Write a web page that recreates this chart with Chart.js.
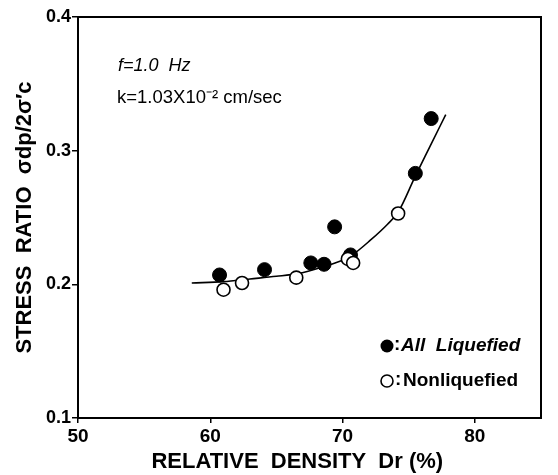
<!DOCTYPE html>
<html>
<head>
<meta charset="utf-8">
<script src="https://cdn.jsdelivr.net/npm/chart.js@4/dist/chart.umd.min.js"></script>
<style>
  html, body { margin: 0; padding: 0; background: #fff; }
  #wrap { width: 558px; height: 475px; }
</style>
</head>
<body>
<div id="wrap"><canvas id="chart" width="558" height="475"></canvas></div>
<script>
// values
const liquefiedDr = [60.7, 64.1, 67.6, 68.6, 69.4, 70.6, 75.5, 76.7];
const liquefiedRatio = [0.207, 0.211, 0.216, 0.215, 0.243, 0.222, 0.283, 0.324];
const nonliquefiedDr = [61.0, 62.4, 66.5, 70.4, 70.8, 74.2];
const nonliquefiedRatio = [0.196, 0.201, 0.205, 0.219, 0.216, 0.253];
// fitted curve
const curveDr = [58.6, 61.0, 63.0, 65.0, 66.6, 68.5, 70.0, 70.6, 72.1, 73.4, 74.2, 75.5, 76.6, 77.8];
const curveRatio = [0.201, 0.202, 0.204, 0.206, 0.208, 0.213, 0.218, 0.221, 0.233, 0.245, 0.254, 0.281, 0.303, 0.327];
const xTicks = [50, 60, 70, 80];
const yTicks = [0.1, 0.2, 0.3, 0.4];

const toPts = (xs, ys) => xs.map((x, i) => ({x: x, y: ys[i]}));
const FONT = '"Liberation Sans", Arial, Helvetica, sans-serif';

// box round the plot, notes and the hand-made key
const decor = {
    id: 'decor',
    afterDraw(chart) {
        const {ctx, chartArea: a} = chart;
        ctx.save();
        ctx.strokeStyle = '#000';
        ctx.lineWidth = 2;
        ctx.strokeRect(a.left, a.top, a.right - a.left, a.bottom - a.top);

        ctx.fillStyle = '#000';
        ctx.textBaseline = 'middle';
        ctx.font = 'italic 18px ' + FONT;
        ctx.fillText('f=1.0  Hz', 118, 66);
        ctx.font = '18.5px ' + FONT;
        ctx.fillText('k=1.03X10\u207B\u00B2 cm/sec', 117, 98);

        // key
        ctx.beginPath();
        ctx.arc(387, 346, 6.5, 0, Math.PI * 2);
        ctx.fill();
        ctx.beginPath();
        ctx.lineWidth = 1.6;
        ctx.arc(387, 381, 6, 0, Math.PI * 2);
        ctx.stroke();
        ctx.font = 'bold 19px ' + FONT;
        ctx.fillText(':', 394, 345);
        ctx.fillText(':', 395, 380);
        ctx.font = 'italic bold 19px ' + FONT;
        ctx.fillText('All  Liquefied', 401, 346);
        ctx.font = 'bold 19px ' + FONT;
        ctx.fillText('Nonliquefied', 403, 381);
        ctx.restore();
    }
};

new Chart(document.getElementById('chart'), {
    type: 'scatter',
    data: {
        datasets: [
            {
                type: 'line',
                data: toPts(curveDr, curveRatio),
                borderColor: '#000',
                borderWidth: 1.6,
                pointRadius: 0,
                cubicInterpolationMode: 'monotone',
                fill: false,
                order: 3
            },
            {
                label: 'All Liquefied',
                data: toPts(liquefiedDr, liquefiedRatio),
                backgroundColor: '#000',
                borderColor: '#000',
                pointRadius: 7,
                order: 2
            },
            {
                label: 'Nonliquefied',
                data: toPts(nonliquefiedDr, nonliquefiedRatio),
                backgroundColor: '#fff',
                borderColor: '#000',
                borderWidth: 1.6,
                pointRadius: 6.5,
                order: 1
            }
        ]
    },
    options: {
        responsive: false,
        animation: false,
        layout: {padding: {top: 17, right: 17, left: 0, bottom: 0}},
        plugins: {legend: {display: false}, tooltip: {enabled: false}},
        scales: {
            x: {
                type: 'linear',
                min: 50,
                max: 85,
                afterBuildTicks: s => { s.ticks = xTicks.map(v => ({value: v})); },
                afterFit: s => { s.height = 57; },
                grid: {drawOnChartArea: false, color: '#000', tickLength: 5, lineWidth: 1.5},
                border: {color: '#000', width: 2},
                ticks: {color: '#000', padding: 2, font: {family: FONT, size: 19, weight: 'bold'}},
                title: {
                    display: true,
                    text: 'RELATIVE  DENSITY  Dr (%)    ',
                    color: '#000',
                    padding: {top: 0, bottom: 0},
                    font: {family: FONT, size: 22, weight: 'bold'}
                }
            },
            y: {
                type: 'linear',
                min: 0.1,
                max: 0.4,
                afterBuildTicks: s => { s.ticks = yTicks.map(v => ({value: v})); },
                afterFit: s => { s.width = 78; },
                grid: {drawOnChartArea: false, color: '#000', tickLength: 6, lineWidth: 1.5},
                border: {color: '#000', width: 2},
                ticks: {
                    color: '#000',
                    padding: 1,
                    font: {family: FONT, size: 18, weight: 'bold'},
                    callback: v => v.toFixed(1)
                },
                title: {
                    display: true,
                    text: 'STRESS  RATIO  \u03C3dp/2\u03C3\u2032c',
                    color: '#000',
                    padding: {top: 12, bottom: 0},
                    font: {family: FONT, size: 22, weight: 'bold'}
                }
            }
        }
    },
    plugins: [decor]
});
</script>
</body>
</html>
